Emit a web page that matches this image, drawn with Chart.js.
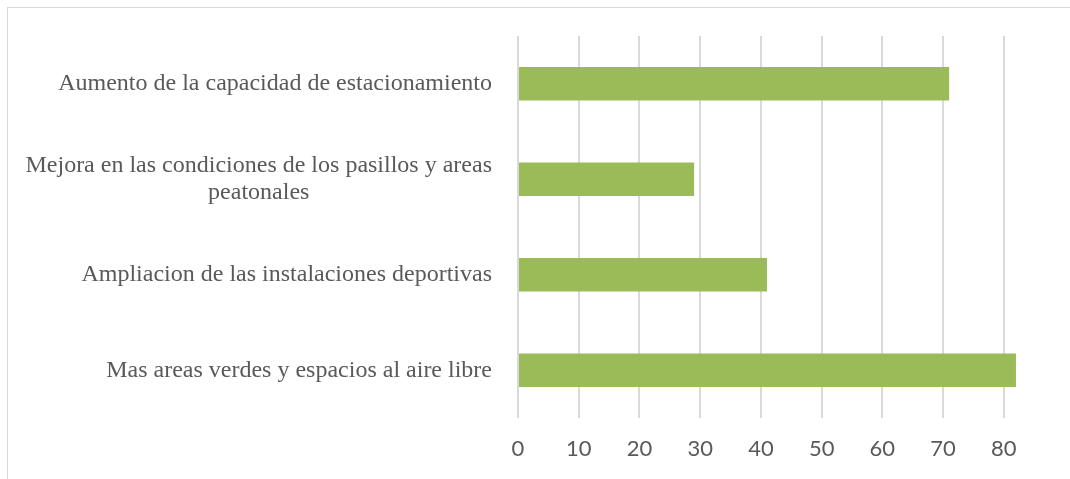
<!DOCTYPE html>
<html>
<head>
<meta charset="utf-8">
<script src="https://cdn.jsdelivr.net/npm/chart.js@4/dist/chart.umd.min.js"></script>
<style>
  html, body { margin: 0; padding: 0; background: #fff; }
  #wrap { position: relative; width: 1070px; height: 479px; overflow: hidden; }
  #frame { position: absolute; left: 7px; top: 7px; width: 1100px; height: 500px;
           border-left: 1px solid #d9d9d9; border-top: 1px solid #d9d9d9; }
  #myChart { position: absolute; left: 0; top: 0; }
</style>
</head>
<body>
<div id="wrap">
  <div id="frame"></div>
  <canvas id="myChart" width="1070" height="479"></canvas>
</div>
<script>
const categories = [
    'Aumento de la capacidad de estacionamiento',
    ['Mejora en las condiciones de los pasillos y areas', 'peatonales'],
    'Ampliacion de las instalaciones deportivas',
    'Mas areas verdes y espacios al aire libre'
]
const values = [71, 29, 41, 82]
const xTicks = [0, 10, 20, 30, 40, 50, 60, 70, 80]

const textColor = '#595959'
const labelFont = '24px "Liberation Serif", "Times New Roman", serif'
const labelLineHeight = 27
const labelRight = 492

// Excel-style category labels: block right aligned, wrapped lines centred in the block
const categoryLabels = {
    id: 'categoryLabels',
    afterDraw(chart) {
        const scale = chart.scales.y;
        const c = chart.ctx;
        c.save();
        c.font = labelFont;
        c.fillStyle = textColor;
        c.textAlign = 'center';
        c.textBaseline = 'middle';
        categories.forEach((label, i) => {
            const lines = Array.isArray(label) ? label : [label];
            const widest = Math.max(...lines.map(l => c.measureText(l).width));
            const cx = labelRight - widest / 2;
            const y = scale.getPixelForTick(i);
            lines.forEach((line, k) => {
                c.fillText(line, cx, y - (lines.length - 1) * labelLineHeight / 2 + k * labelLineHeight);
            });
        });
        c.restore();
    }
}

const ctx = document.getElementById('myChart');
new Chart(ctx, {
    type: 'bar',
    data: {
        labels: categories,
        datasets: [{
            data: values,
            backgroundColor: '#9bbb59',
            borderWidth: 0,
            categoryPercentage: 1,
            barPercentage: 0.35
        }]
    },
    options: {
        indexAxis: 'y',
        responsive: false,
        animation: false,
        layout: {padding: {top: 36, right: 51, bottom: 0, left: 0}},
        plugins: {legend: {display: false}, tooltip: {enabled: false}},
        scales: {
            y: {
                grid: {display: false},
                border: {display: false},
                ticks: {display: false},
                afterFit: s => { s.width = 518; }
            },
            x: {
                min: 0,
                max: 82.5,
                afterBuildTicks: s => { s.ticks = xTicks.map(v => ({value: v})); },
                afterFit: s => { s.height = 61; },
                grid: {color: '#d9d9d9', lineWidth: 2, drawTicks: false},
                border: {display: false},
                ticks: {
                    color: textColor,
                    padding: 18,
                    font: {family: 'Lato, "Open Sans", sans-serif', size: 22}
                }
            }
        }
    },
    plugins: [categoryLabels]
})
</script>
</body>
</html>
